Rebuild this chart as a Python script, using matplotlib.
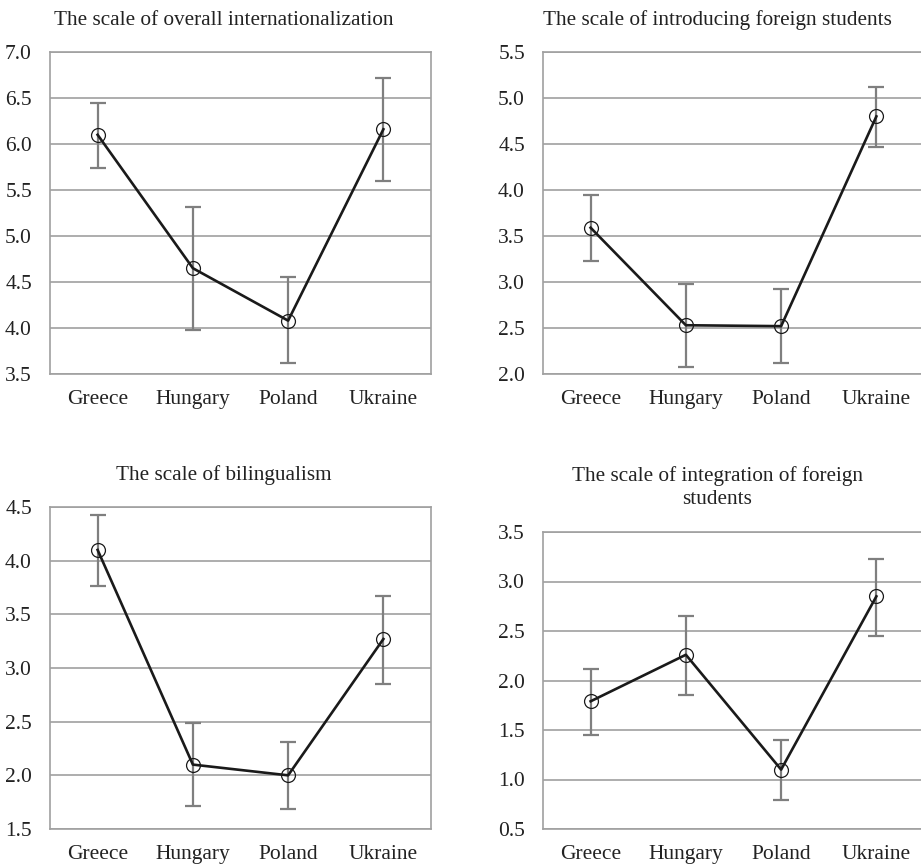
import matplotlib
matplotlib.use("Agg")
import matplotlib.pyplot as plt

plt.rcParams['font.family'] = ['Liberation Serif', 'DejaVu Serif']

countries = ["Greece", "Hungary", "Poland", "Ukraine"]

titles = ["The scale of overall internationalization",
          "The scale of introducing foreign students",
          "The scale of bilingualism",
          "The scale of integration of foreign\nstudents"]

# means and error-bar ends (low, high)
overall_mean = [6.10, 4.65, 4.08, 6.16]
overall_low = [5.74, 3.98, 3.62, 5.60]
overall_high = [6.45, 5.32, 4.55, 6.72]

introducing_mean = [3.59, 2.53, 2.52, 4.80]
introducing_low = [3.23, 2.08, 2.12, 4.47]
introducing_high = [3.95, 2.98, 2.92, 5.12]

bilingual_mean = [4.10, 2.10, 2.00, 3.27]
bilingual_low = [3.76, 1.71, 1.69, 2.85]
bilingual_high = [4.43, 2.49, 2.31, 3.67]

integration_mean = [1.79, 2.26, 1.10, 2.85]
integration_low = [1.45, 1.85, 0.79, 2.45]
integration_high = [2.12, 2.65, 1.40, 3.23]

y_limits = [(3.5, 7.0), (2.0, 5.5), (1.5, 4.5), (0.5, 3.5)]

series = [(overall_mean, overall_low, overall_high),
          (introducing_mean, introducing_low, introducing_high),
          (bilingual_mean, bilingual_low, bilingual_high),
          (integration_mean, integration_low, integration_high)]

W, H = 921, 868
# axes boxes in pixels: left, top, right, bottom
boxes = [(50, 52, 431, 374),
         (543, 52, 924, 374),
         (50, 507, 431, 829),
         (543, 532, 924, 829)]
title_y = [1.098, 1.098, 1.098, 1.15]

fig = plt.figure(figsize=(W / 100, H / 100), dpi=100)

grid_col = "#a0a0a0"
err_col = "#7f7f7f"

for i, (mean, low, high) in enumerate(series):
    l, t, r, b = boxes[i]
    ax = fig.add_axes([l / W, 1 - b / H, (r - l) / W, (b - t) / H])
    x = list(range(len(countries)))
    yerr = [[m - lo for m, lo in zip(mean, low)],
            [hi - m for m, hi in zip(mean, high)]]
    ax.errorbar(x, mean, yerr=yerr, fmt="none", ecolor=err_col,
                elinewidth=1.6, capsize=6, capthick=1.6, zorder=3)
    ax.plot(x, mean, color="#1a1a1a", lw=1.9, marker="o", ms=10,
            mfc="none", mec="#1a1a1a", mew=0.9, zorder=4)
    lo_lim, hi_lim = y_limits[i]
    ax.set_ylim(lo_lim, hi_lim)
    ax.set_xlim(-0.5, 3.5)
    ticks = [lo_lim + 0.5 * k for k in range(int(round((hi_lim - lo_lim) / 0.5)) + 1)]
    ax.set_yticks(ticks)
    ax.set_yticklabels(["%.1f" % v for v in ticks])
    ax.set_xticks(x)
    ax.set_xticklabels(countries)
    ax.yaxis.grid(True, color=grid_col, lw=1.2)
    ax.set_axisbelow(True)
    for s in ax.spines.values():
        s.set_color(grid_col)
        s.set_linewidth(1.2)
    ax.tick_params(axis="both", length=0, labelsize=15.5, colors="#222222")
    ax.tick_params(axis="x", pad=11.5)
    ax.tick_params(axis="y", pad=13)
    ax.text(0.457, title_y[i], titles[i], transform=ax.transAxes,
            ha="center", va="center", fontsize=15.3, color="#222222",
            linespacing=1.3)

fig.savefig("out.png", dpi=100)
